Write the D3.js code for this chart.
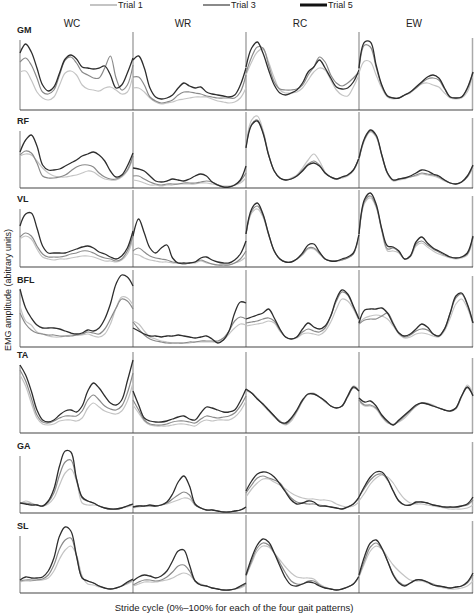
<!DOCTYPE html>
<html><head><meta charset="utf-8">
<script src="https://cdn.jsdelivr.net/npm/d3@7"></script>
<style>body{margin:0;background:#fff}svg{display:block;font-family:"Liberation Sans",Arial,sans-serif}</style>
</head><body><svg id="c" width="474" height="614"></svg>
<script>
const muscles = ["GM","RF","VL","BFL","TA","GA","SL"];
const gaits = ["WC","WR","RC","EW"];
const trials = ["Trial 1","Trial 3","Trial 5"];
const stride = [0,5,10,15,20,25,30,35,40,45,50,55,60,65,70,75,80,85,90,95,100];

// each: [Trial 1, Trial 3, Trial 5], EMG amplitude (arbitrary units)
const GM_WC = [[38,39,30,18,12,10,13,25,37,39,35,25,21,20,19,22,23,20,16,18,35],[48,52,45,32,18,16,20,35,50,53,47,38,35,32,32,42,54,32,20,25,45],[57,66,58,42,25,19,23,37,51,55,51,43,42,41,42,44,35,22,25,37,52]];
const GM_WR = [[22,22,18,12,8,6,7,8,10,11,12,13,13,13,11,9,8,7,8,12,22],[33,33,25,13,9,7,8,10,15,18,18,17,16,14,13,12,12,12,12,18,35],[50,54,42,22,13,11,12,15,22,27,24,22,23,18,16,15,14,13,15,25,42]];
const GM_RC = [[35,48,58,61,48,32,20,17,17,18,22,30,38,42,40,30,20,15,14,23,35],[37,53,63,62,45,28,21,20,20,21,25,35,43,53,48,35,27,24,27,32,38],[43,62,68,57,40,25,17,15,17,20,27,38,43,50,42,32,23,21,22,28,40]];
const GM_EW = [[37,49,48,35,22,13,11,12,15,17,22,26,27,25,23,17,12,11,12,18,37],[41,65,63,43,24,14,12,12,15,18,22,27,31,32,30,21,13,12,13,21,38],[42,68,68,45,25,14,12,12,15,18,23,28,33,35,32,22,13,12,13,22,38]];
const RF_WC = [[32,34,33,27,20,15,12,11,11,12,13,15,17,16,12,9,8,8,11,17,30],[33,37,35,25,12,10,10,11,13,17,21,23,23,21,15,11,9,9,12,18,32],[36,48,53,42,23,18,18,19,22,25,28,32,34,36,33,27,17,11,13,22,35]];
const RF_WR = [[8,7,5,3,3,2,3,3,4,4,4,4,5,5,4,3,2,2,3,5,10],[12,12,9,6,4,3,4,4,4,5,5,5,6,7,6,3,1,1,3,7,15],[20,19,17,12,7,6,7,9,8,7,9,12,14,12,6,3,1,1,3,8,22]];
const RF_RC = [[42,68,72,58,34,17,10,8,10,13,20,28,34,27,16,11,9,10,12,17,30],[41,64,68,56,33,17,10,8,9,12,18,24,27,23,15,11,9,11,13,18,30],[40,63,67,55,33,17,10,8,9,12,17,23,25,22,15,11,9,11,13,18,30]];
const RF_EW = [[29,48,56,51,32,14,7,8,9,11,12,14,13,12,10,7,5,4,6,11,20],[29,49,57,52,33,15,8,9,10,11,13,15,14,13,11,8,5,4,6,11,22],[30,50,58,53,33,15,8,9,10,12,15,18,17,14,12,8,5,4,6,12,23]];
const VL_WC = [[28,31,28,18,10,8,7,8,8,9,10,11,11,10,8,6,6,5,7,13,28],[30,34,31,21,13,10,10,10,11,13,14,16,16,14,11,9,8,6,8,16,31],[41,53,54,39,21,14,14,14,14,16,18,20,21,19,15,13,10,8,11,19,36]];
const VL_WR = [[13,12,9,7,6,5,5,4,4,3,4,4,6,4,3,2,2,2,4,6,10],[16,19,15,11,9,8,7,5,4,3,4,5,7,5,3,2,2,2,4,8,16],[31,48,34,19,14,19,22,9,4,4,4,5,9,10,7,5,4,4,7,13,26]];
const VL_RC = [[32,54,58,50,32,16,8,5,5,8,12,18,18,13,8,6,6,7,9,13,31],[33,56,61,52,33,16,8,5,5,8,13,19,19,14,8,6,6,7,9,13,32],[33,58,64,53,33,16,8,5,5,8,14,22,23,15,8,6,6,8,10,14,33]];
const VL_EW = [[32,64,69,60,36,16,16,14,8,10,21,24,20,16,13,11,9,8,9,12,29],[33,66,71,61,37,18,19,15,8,11,23,26,22,18,15,12,10,9,10,13,30],[33,68,74,63,38,21,20,16,8,11,25,30,24,19,16,13,10,9,10,14,31]];
const BFL_WC = [[41,26,22,15,13,11,10,10,11,12,12,12,13,11,10,13,23,39,50,49,42],[34,23,17,14,13,12,12,11,11,11,12,13,15,14,13,18,28,39,48,46,38],[58,39,29,22,19,19,19,18,16,14,13,14,17,16,19,28,43,63,72,70,61]];
const BFL_WR = [[26,23,16,10,8,6,5,4,4,4,4,5,5,5,5,5,7,13,19,23,22],[25,18,12,8,6,5,4,4,4,4,5,5,6,6,6,6,9,16,26,30,28],[19,16,13,11,11,10,11,11,12,11,10,9,10,11,8,4,7,16,34,45,44]];
const BFL_RC = [[21,22,23,24,26,24,16,10,8,9,13,14,13,12,16,25,38,48,46,38,26],[24,25,26,28,29,26,17,10,8,10,15,18,16,15,19,31,46,55,52,40,28],[28,30,32,34,38,29,18,10,8,10,18,24,20,18,21,31,48,57,53,41,28]];
const BFL_EW = [[24,29,31,32,31,28,21,13,9,10,13,14,13,11,10,16,29,43,48,39,23],[23,27,28,28,31,34,24,14,10,12,16,18,17,13,11,18,34,49,53,42,24],[24,37,38,38,39,34,23,14,11,13,18,23,20,13,11,18,34,51,54,43,24]];
const TA_WC = [[58,47,30,15,9,8,9,12,13,13,12,15,25,30,26,22,20,19,22,32,50],[63,52,35,18,11,10,12,15,17,17,17,22,33,38,33,27,24,23,27,40,60],[68,58,42,23,13,11,13,18,22,23,21,27,42,50,45,37,30,28,33,52,73]];
const TA_WR = [[28,20,12,8,7,7,7,8,9,9,8,7,11,13,12,13,13,13,16,22,32],[33,23,13,9,8,8,9,11,12,12,11,10,14,17,16,15,16,17,20,27,37],[42,28,15,12,11,11,12,14,16,17,14,13,20,26,25,23,21,21,23,32,44]];
const TA_RC = [[42,40,35,28,22,16,11,8,12,21,32,39,40,36,31,27,25,27,37,47,43],[43,40,34,29,23,17,12,9,14,22,32,39,39,36,32,27,25,27,36,45,42],[44,40,34,29,23,17,11,10,15,23,33,39,39,36,32,27,25,27,37,46,42]];
const TA_EW = [[32,27,27,24,16,10,9,11,15,21,27,30,30,28,25,23,22,24,36,48,40],[33,28,28,25,17,11,8,12,17,22,27,30,29,27,25,23,22,25,37,45,38],[35,31,32,27,18,12,8,13,18,23,28,30,29,27,25,23,22,25,37,46,37]];
const GA_WC = [[9,12,10,8,7,9,15,28,40,44,32,10,8,8,7,5,4,4,5,6,8],[10,10,9,8,7,11,20,38,51,53,34,15,12,10,7,5,4,4,5,7,9],[10,9,8,8,7,12,24,47,62,61,34,16,12,10,7,5,4,4,5,7,9]];
const GA_WR = [[5,6,7,7,7,8,9,11,13,15,14,8,5,3,3,2,1,1,2,3,5],[6,7,7,7,7,8,10,14,18,21,18,8,5,3,3,2,1,1,2,3,6],[6,7,7,8,7,8,11,19,31,37,27,9,5,3,3,2,1,1,2,3,6]];
const GA_RC = [[16,24,30,34,34,31,28,24,20,17,15,14,14,13,13,12,9,7,6,7,11],[20,28,35,37,35,33,30,22,15,11,10,9,9,8,7,6,5,4,6,9,15],[22,32,39,41,40,36,29,21,13,9,10,12,11,7,7,6,5,4,6,9,16]];
const GA_EW = [[12,20,29,35,38,36,30,21,14,10,9,9,8,7,6,5,4,4,4,5,8],[16,25,33,38,39,33,22,12,8,8,10,11,10,8,7,6,6,6,7,8,13],[16,27,36,41,41,34,22,12,8,8,11,11,10,8,7,6,6,6,7,9,16]];
const SL_WC = [[11,12,12,13,13,15,22,34,43,47,38,17,9,8,6,5,4,5,7,9,12],[12,13,13,13,14,18,28,44,53,55,37,15,12,10,7,5,4,5,7,10,13],[13,16,15,15,16,22,35,57,66,62,37,15,12,10,7,5,4,5,7,11,14]];
const SL_WR = [[7,9,11,11,11,12,13,15,18,20,18,12,9,7,5,4,3,3,4,5,8],[8,11,13,13,12,13,16,21,27,28,22,12,8,7,5,4,3,3,4,6,9],[12,16,18,17,15,17,22,32,42,43,28,12,8,7,5,4,3,3,4,7,10]];
const SL_RC = [[17,30,42,47,46,40,33,26,20,16,15,15,14,9,6,4,3,4,6,9,16],[17,32,45,50,48,40,30,20,12,9,9,12,12,8,5,4,3,4,6,9,16],[18,35,48,54,51,40,27,15,8,7,9,11,10,7,5,4,3,4,6,9,17]];
const SL_EW = [[16,30,42,47,44,36,28,22,17,13,12,12,10,8,6,5,4,4,5,7,12],[17,33,46,50,44,32,19,11,8,10,13,13,11,9,7,6,5,6,7,10,18],[18,37,50,53,45,32,18,10,7,10,13,13,11,8,7,6,5,6,7,11,20]];

const panels = [
  [GM_WC, GM_WR, GM_RC, GM_EW],
  [RF_WC, RF_WR, RF_RC, RF_EW],
  [VL_WC, VL_WR, VL_RC, VL_EW],
  [BFL_WC, BFL_WR, BFL_RC, BFL_EW],
  [TA_WC, TA_WR, TA_RC, TA_EW],
  [GA_WC, GA_WR, GA_RC, GA_EW],
  [SL_WC, SL_WR, SL_RC, SL_EW]
];

// layout
const colX = [20,133,246,359,473];
const rowBase = [110,188,267,347,433,513,593];
const rowTop = [32,112,190,270,352,436,515];
const labelY = [33,124,202,283,358,449,529];
const trialColor = ["#c4c4c4","#8a8a8a","#2e2e2e"];
const trialWidth = [1.2,1.2,1.3];
const legendColor = ["#c4c4c4","#8a8a8a","#111"];
const legendWidth = [2,2,3];

const svg = d3.select("#c");

// legend
const legX = [90,203,300];
trials.forEach((t,i)=>{
  svg.append("line").attr("x1",legX[i]).attr("x2",legX[i]+27).attr("y1",5).attr("y2",5)
    .attr("stroke",legendColor[i]).attr("stroke-width",legendWidth[i]);
  svg.append("text").attr("x",legX[i]+28).attr("y",8).attr("font-size",9).attr("fill","#222").text(t);
});

// column headers
const headX = [72,183,300,414];
gaits.forEach((g,i)=>{
  svg.append("text").attr("x",headX[i]).attr("y",27).attr("text-anchor","middle")
    .attr("font-size",10).attr("fill","#222").text(g);
});

muscles.forEach((m,r)=>{
  const y = d3.scaleLinear().domain([0,75]).range([rowBase[r], rowBase[r]-75]);
  // row label
  svg.append("text").attr("x",17).attr("y",labelY[r]).attr("font-size",9).attr("font-weight","bold")
    .attr("fill","#222").text(m);
  // dividers
  gaits.forEach((g,c)=>{
    const top = c===0 ? labelY[r]+7 : rowTop[r];
    svg.append("line").attr("x1",colX[c]).attr("x2",colX[c]).attr("y1",top).attr("y2",rowBase[r])
      .attr("stroke","#888").attr("stroke-width",1.1);
  });
  svg.append("line").attr("x1",colX[4]-0.5).attr("x2",colX[4]-0.5).attr("y1",rowTop[r]+6).attr("y2",rowBase[r])
      .attr("stroke","#aaa").attr("stroke-width",1.5);
  // baseline axis
  svg.append("line").attr("x1",colX[0]).attr("x2",colX[4]).attr("y1",rowBase[r]).attr("y2",rowBase[r])
    .attr("stroke","#444").attr("stroke-width",1.2);
  // curves
  gaits.forEach((g,c)=>{
    const x = d3.scaleLinear().domain([0,100]).range([colX[c], colX[c+1]]);
    const line = d3.line().x((d,i)=>x(stride[i])).y(d=>y(d)).curve(d3.curveCatmullRom.alpha(0.5));
    panels[r][c].forEach((series,t)=>{
      svg.append("path").attr("d",line(series)).attr("fill","none")
        .attr("stroke",trialColor[t]).attr("stroke-width",trialWidth[t]);
    });
  });
});

// axis titles
svg.append("text").attr("transform","translate(11,290) rotate(-90)").attr("text-anchor","middle")
  .attr("font-size",9).attr("fill","#222").text("EMG amplitude (abitrary units)");
svg.append("text").attr("x",234).attr("y",611).attr("text-anchor","middle")
  .attr("font-size",9.5).attr("fill","#222").text("Stride cycle (0%–100% for each of the four gait patterns)");
</script></body></html>
